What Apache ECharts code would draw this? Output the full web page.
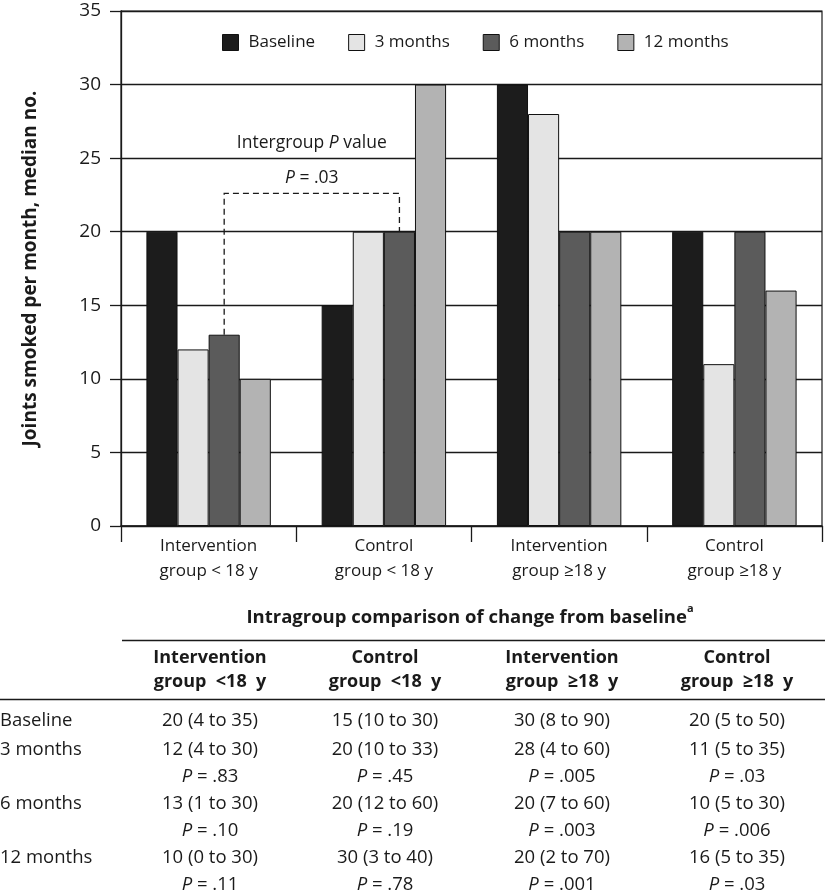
<!DOCTYPE html>
<html>
<head>
<meta charset="utf-8">
<script src="https://cdn.jsdelivr.net/npm/echarts@6/dist/echarts.min.js"></script>
<style>
html,body{margin:0;padding:0;background:#fff;}
#chart{width:825px;height:894px;}
</style>
</head>
<body>
<div id="chart"></div>
<script>
// ---- data ----
const categories = ['Intervention\ngroup < 18 y', 'Control\ngroup < 18 y', 'Intervention\ngroup \u226518 y', 'Control\ngroup \u226518 y'];
const seriesNames = ['Baseline', '3 months', '6 months', '12 months'];
const baseline = [20, 15, 30, 20];
const months3 = [12, 20, 28, 11];
const months6 = [13, 20, 20, 20];
const months12 = [10, 30, 20, 16];
const yTicks = [0, 5, 10, 15, 20, 25, 30, 35];

// annotation: intergroup comparison between 6-month bars
const bracketCats = [0, 1];
const bracketTop = 22.6;
const annoTitleValue = 26.0;
const annoPValue = 23.65;
const annoPText = '.03';

// table
const tableTitle = 'Intragroup comparison of change from baseline';
const tableHeaders = [['Intervention', 'group  <18  y'], ['Control', 'group  <18  y'], ['Intervention', 'group  \u226518  y'], ['Control', 'group  \u226518  y']];
const rowLabels = ['Baseline', '3 months', '6 months', '12 months'];
const colValues = [
  ['20 (4 to 35)', '12 (4 to 30)', '13 (1 to 30)', '10 (0 to 30)'],
  ['15 (10 to 30)', '20 (10 to 33)', '20 (12 to 60)', '30 (3 to 40)'],
  ['30 (8 to 90)', '28 (4 to 60)', '20 (7 to 60)', '20 (2 to 70)'],
  ['20 (5 to 50)', '11 (5 to 35)', '10 (5 to 30)', '16 (5 to 35)']
];
const colPValues = [
  [null, '.83', '.10', '.11'],
  [null, '.45', '.19', '.78'],
  [null, '.005', '.003', '.001'],
  [null, '.03', '.006', '.03']
];

// ---- styles ----
const FONT = "'Open Sans', 'Noto Sans', sans-serif";
const INK = '#1a1a1a';
const colors = ['#1c1c1c', '#e4e4e4', '#5b5b5b', '#b3b3b3'];
const CAT_GAP = 0.29;
const TFS = 18.5;

const chart = echarts.init(document.getElementById('chart'), null, {renderer: 'canvas'});

const barSeries = [baseline, months3, months6, months12].map((d, i) => ({
  name: seriesNames[i],
  type: 'bar',
  data: d,
  barGap: '0%',
  barCategoryGap: (CAT_GAP * 100) + '%',
  itemStyle: {color: colors[i], borderColor: '#111', borderWidth: 1},
  emphasis: {disabled: true},
  z: 3
}));

const bracketSeries = {
  type: 'custom',
  name: 'anno',
  data: [[0]],
  z: 5,
  silent: true,
  renderItem: function (params, api) {
    const catW = api.size([1, 0])[0];
    const bw = catW * (1 - CAT_GAP) / 4;
    const idx6 = 2;
    const cx = c => api.coord([c, 0])[0] - 2 * bw + (idx6 + 0.5) * bw;
    const x1 = cx(bracketCats[0]);
    const x2 = cx(bracketCats[1]);
    const yA = api.coord([0, months6[bracketCats[0]]])[1];
    const yB = api.coord([0, months6[bracketCats[1]]])[1];
    const yT = api.coord([0, bracketTop])[1];
    const mid = (x1 + x2) / 2;
    return {
      type: 'group',
      children: [
        {
          type: 'polyline',
          shape: {points: [[x1, yA], [x1, yT], [x2, yT], [x2, yB]]},
          style: {stroke: INK, lineWidth: 1.3, lineDash: [6, 4], fill: null}
        },
        {
          type: 'text',
          x: mid, y: api.coord([0, annoTitleValue])[1],
          style: {
            text: 'Intergroup {i|P} value',
            align: 'center', verticalAlign: 'middle',
            font: '17.5px ' + FONT, fill: INK,
            rich: {i: {fontStyle: 'italic', fontSize: 17.5, fontFamily: FONT, color: INK}}
          }
        },
        {
          type: 'text',
          x: mid, y: api.coord([0, annoPValue])[1],
          style: {
            text: '{i|P} = ' + annoPText,
            align: 'center', verticalAlign: 'middle',
            font: '17.5px ' + FONT, fill: INK,
            rich: {i: {fontStyle: 'italic', fontSize: 17.5, fontFamily: FONT, color: INK}}
          }
        }
      ]
    };
  }
};

// ---- table graphics ----
const graphics = [];
const colCenters = [210, 385, 562, 737];
const txt = (x, y, text, opts) => Object.assign({
  type: 'text', x: x, y: y, silent: true,
  style: Object.assign({text: text, font: TFS + 'px ' + FONT, fill: INK, align: 'center', verticalAlign: 'middle'}, opts || {})
});
graphics.push(txt(470, 615, '{b|' + tableTitle + '}{s|a}', {
  rich: {
    b: {fontWeight: 'bold', fontSize: 18.5, fontFamily: FONT, color: INK, verticalAlign: 'bottom', lineHeight: 24},
    s: {fontWeight: 'bold', fontSize: 11, fontFamily: FONT, color: INK, verticalAlign: 'top', lineHeight: 24}
  }
}));
graphics.push({type: 'line', silent: true, shape: {x1: 122, y1: 640.5, x2: 825, y2: 640.5}, style: {stroke: INK, lineWidth: 1.6}});
graphics.push({type: 'line', silent: true, shape: {x1: 0, y1: 699.5, x2: 825, y2: 699.5}, style: {stroke: INK, lineWidth: 1.6}});
tableHeaders.forEach((h, c) => {
  graphics.push(txt(colCenters[c], 658, h[0], {font: 'bold 18px ' + FONT}));
  graphics.push(txt(colCenters[c], 682, h[1], {font: 'bold 18px ' + FONT}));
});
const rowY = [721, 750, 804, 858];
rowLabels.forEach((lab, r) => {
  graphics.push(txt(0, rowY[r], lab, {align: 'left'}));
  colCenters.forEach((cx, c) => {
    graphics.push(txt(cx, rowY[r], colValues[c][r]));
    if (colPValues[c][r]) {
      graphics.push(txt(cx, rowY[r] + 27, '{i|P} = ' + colPValues[c][r], {
        rich: {i: {fontStyle: 'italic', fontSize: TFS, fontFamily: FONT, color: INK}}
      }));
    }
  });
});

const option = {
  animation: false,
  backgroundColor: '#fff',
  textStyle: {fontFamily: FONT},
  grid: {left: 121, right: 3, top: 11, bottom: 368, containLabel: false, show: true, borderColor: INK, borderWidth: 1.2, backgroundColor: 'transparent'},
  legend: {
    data: seriesNames,
    left: 217, top: 29,
    icon: 'rect',
    itemWidth: 16, itemHeight: 16,
    itemGap: 33,
    selectedMode: false,
    itemStyle: {borderColor: '#111', borderWidth: 1},
    textStyle: {fontSize: 17, color: INK, fontFamily: FONT, padding: [0, 0, 0, 5]}
  },
  xAxis: {
    type: 'category',
    data: categories,
    axisLine: {lineStyle: {color: INK, width: 1.5}},
    axisTick: {show: true, alignWithLabel: false, length: 16, lineStyle: {color: INK, width: 1.3}},
    axisLabel: {fontSize: 17, color: INK, lineHeight: 25, margin: 8, fontFamily: FONT, interval: 0},
    splitLine: {show: false}
  },
  yAxis: {
    type: 'value',
    min: 0, max: 35, interval: 5,
    name: 'Joints smoked per month, median no.',
    nameLocation: 'middle',
    nameGap: 81,
    nameRotate: 90,
    nameTextStyle: {fontSize: 19, fontWeight: 'bold', color: INK, fontFamily: FONT},
    axisLine: {show: true, lineStyle: {color: INK, width: 1.3}},
    axisTick: {show: true, length: 11, lineStyle: {color: INK, width: 1.3}},
    axisLabel: {fontSize: 19, color: INK, margin: 20, fontFamily: FONT, customValues: yTicks},
    splitLine: {show: true, lineStyle: {color: INK, width: 1.3}}
  },
  series: barSeries.concat([bracketSeries]),
  graphic: graphics
};
chart.setOption(option);
</script>
</body>
</html>
